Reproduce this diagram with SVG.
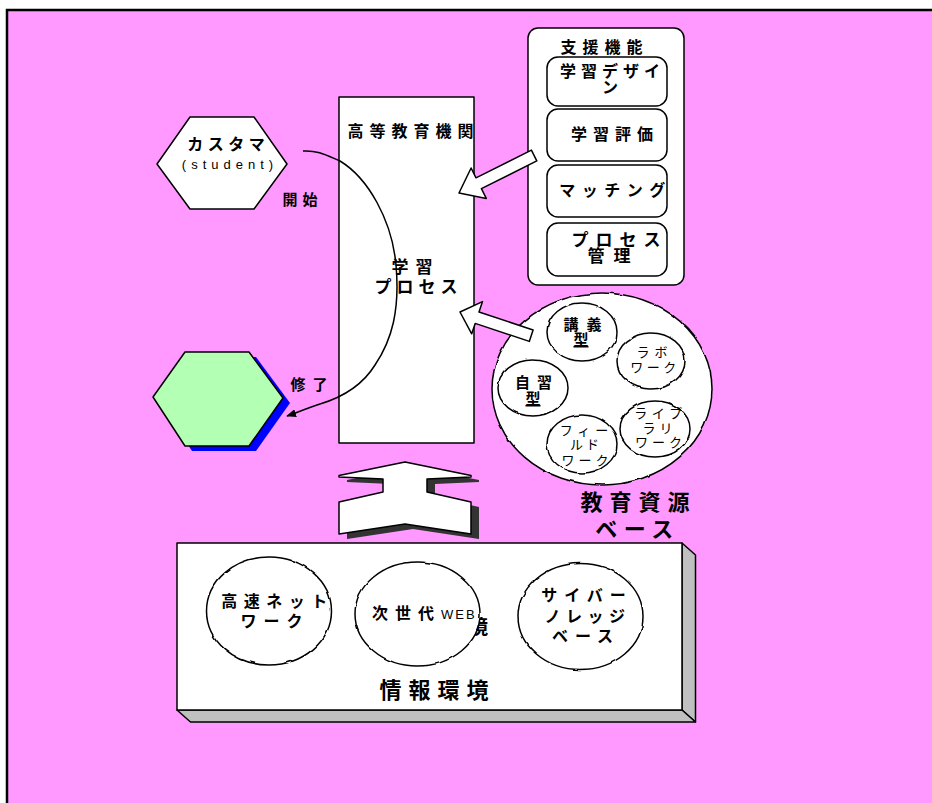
<svg xmlns="http://www.w3.org/2000/svg" width="932" height="803" viewBox="0 0 932 803">
<style>
.j { font-family: "Noto Sans CJK JP", "Noto Sans CJK SC", sans-serif; font-weight: bold; fill: #000; text-anchor: middle; }
.n { font-weight: normal; }
.st { text-anchor: start; }
.l { font-family: "Liberation Sans", Arial, sans-serif; font-weight: normal; fill: #000; }
.w { fill: #fff; stroke: #000; stroke-width: 1.5; stroke-linejoin: round; }
.wv { filter: url(#wobble); }
.g { fill: #B3FFB3; }
.line { fill: none; stroke: #000; stroke-width: 1.5; }
</style>
<defs>
<marker id="ah" markerWidth="10" markerHeight="8" refX="9" refY="4" orient="auto" markerUnits="userSpaceOnUse">
<path d="M0,0 L10,4 L0,8 Z" fill="#000"/>
</marker>
<filter id="wobble" x="-5%" y="-5%" width="110%" height="110%">
<feTurbulence type="fractalNoise" baseFrequency="0.09" numOctaves="1" seed="3" result="t"/>
<feDisplacementMap in="SourceGraphic" in2="t" scale="3" xChannelSelector="R" yChannelSelector="G"/>
</filter>
</defs>
<rect x="0" y="0" width="932" height="803" fill="#fff"/>
<rect x="7" y="10" width="940" height="800" fill="#FF99FF" stroke="#000" stroke-width="2.5"/>

<g id="institution">
<rect class="w" x="339" y="97" width="135" height="346"/>
<text class="j" x="413.5" y="137" font-size="16" letter-spacing="6">高等教育機関</text>
<text class="j" font-size="17"><tspan x="415.5" y="273" letter-spacing="7">学習</tspan><tspan x="418.5" y="293" letter-spacing="5">プロセス</tspan></text>
</g>

<g id="customer">
<polygon class="w" points="157,164 190,117 254,117 287,164 254,209 190,209"/>
<text class="j" x="228.25" y="150" font-size="16" letter-spacing="4.5">カスタマ</text>
<text class="l" x="230" y="169" font-size="13" letter-spacing="5" text-anchor="middle">(student)</text>
</g>
<text id="start-label" class="j" x="302.5" y="205" font-size="15" letter-spacing="5">開始</text>

<g id="completion">
<polygon points="160,402 192,357 256,357 290,403 256,451 192,451" fill="#0000FF"/>
<polygon class="w g" points="153,397 185,352 249,352 283,398 249,446 185,446"/>
</g>
<text id="end-label" class="j" x="312.5" y="390" font-size="15" letter-spacing="7">修了</text>

<g id="support">
<rect class="w" x="528" y="28" width="156" height="257" rx="10"/>
<text class="j" x="604.5" y="53" font-size="16" letter-spacing="6">支援機能</text>
<rect class="w" x="547" y="57" width="120" height="49" rx="11"/>
<text class="j" font-size="16"><tspan x="612.5" y="77" letter-spacing="5">学習デザイ</tspan><tspan x="610" y="93">ン</tspan></text>
<rect class="w" x="547" y="109" width="120" height="52" rx="11"/>
<text class="j" x="615" y="140" font-size="16" letter-spacing="6">学習評価</text>
<rect class="w" x="547" y="165" width="120" height="52" rx="11"/>
<text class="j" x="615.5" y="196" font-size="16" letter-spacing="6.5">マッチング</text>
<rect class="w" x="547" y="223" width="120" height="53" rx="11"/>
<text class="j" font-size="17"><tspan x="619.5" y="246" letter-spacing="7">プロセス</tspan><tspan x="613.5" y="262" letter-spacing="9">管理</tspan></text>
</g>

<g id="resources">
<ellipse class="w wv" cx="602" cy="389" rx="110" ry="96"/>
<ellipse class="w wv" cx="582" cy="332" rx="35" ry="29"/>
<text class="j" font-size="15"><tspan x="586.5" y="330" letter-spacing="8">講義</tspan><tspan x="581" y="345" text-decoration="underline">型</tspan></text>
<ellipse class="w wv" cx="651" cy="361" rx="34" ry="28"/>
<text class="j n" font-size="13"><tspan x="654.5" y="357" letter-spacing="5">ラボ</tspan><tspan x="655" y="372" letter-spacing="3.5">ワーク</tspan></text>
<ellipse class="w wv" cx="533" cy="388" rx="35" ry="28"/>
<text class="j" font-size="15"><tspan x="537" y="388" letter-spacing="7">自習</tspan><tspan x="533" y="404" text-decoration="underline">型</tspan></text>
<ellipse class="w wv" cx="582" cy="444" rx="35" ry="29"/>
<text class="j n" font-size="13"><tspan x="586.5" y="435" letter-spacing="5">フィー</tspan><tspan x="586" y="449" letter-spacing="3">ルド</tspan><tspan x="587" y="465" letter-spacing="4">ワーク</tspan></text>
<ellipse class="w wv" cx="655" cy="429" rx="35" ry="28"/>
<text class="j n" font-size="13"><tspan x="660.5" y="418" letter-spacing="4.5">ライブ</tspan><tspan x="659.5" y="433" letter-spacing="4">ラリ</tspan><tspan x="660.5" y="447" letter-spacing="4">ワーク</tspan></text>
<text class="j" font-size="22"><tspan x="638.5" y="510" letter-spacing="7">教育資源</tspan><tspan x="637.5" y="537" letter-spacing="6.5">ベース</tspan></text>
</g>

<g id="info-env">
<polygon points="682,543 695.5,555 695.5,722 682,710" fill="#C0C0C0" stroke="#000" stroke-width="1.5" stroke-linejoin="round"/>
<polygon points="177,710 682,710 695.5,722 190.5,722" fill="#C0C0C0" stroke="#000" stroke-width="1.5" stroke-linejoin="round"/>
<rect class="w" x="177" y="543" width="505" height="167"/>
<text class="j st" x="469" y="634" font-size="19">境</text>
<ellipse class="w wv" cx="269" cy="611" rx="62.5" ry="54"/>
<text class="j" font-size="16"><tspan x="277.5" y="607" letter-spacing="6.5">高速ネット</tspan><tspan x="275" y="627" letter-spacing="7">ワーク</tspan></text>
<ellipse class="w wv" cx="417.5" cy="614" rx="62.5" ry="52"/>
<text class="j st" x="372" y="619" font-size="16" letter-spacing="7">次世代<tspan class="l" font-size="13" letter-spacing="2">WEB</tspan></text>
<ellipse class="w wv" cx="580.5" cy="616.5" rx="62.5" ry="53"/>
<text class="j" font-size="16"><tspan x="587" y="601" letter-spacing="7">サイバー</tspan><tspan x="587.5" y="622" letter-spacing="5.5">ノレッジ</tspan><tspan x="586" y="642" letter-spacing="7">ベース</tspan></text>
<text class="j" x="437.5" y="698" font-size="22" letter-spacing="7">情報環境</text>
</g>

<g id="connectors">
<path class="line" d="M303,151 C318,150 328,156 340,161 C368,178 392,220 396,265 C400,310 392,340 375,365 C362,386 340,398 320,404 C305,409 296,413 287,416" marker-end="url(#ah)"/>
<polygon class="w" points="459,193 471.1,168 476,177.8 531.4,150.1 536.8,160.9 481.4,188.6 486.3,198.4"/>
<polygon class="w" points="460,312 482.5,301.6 479,312 533.1,330 529.3,341.4 475.2,323.4 471.7,333.8"/>
<polygon points="413,467 479,480 479,482 435,484 435,497 479,507 479,539 413,529 347,539 347,507 391,497 391,484 347,482 347,480" fill="#333"/>
<polygon class="w" points="405,462 471,475.5 471,477 427,479 427,492 471,502 471,534 405,524 339,534 339,502 383,492 383,479 339,477 339,475.5"/>
</g>
</svg>
